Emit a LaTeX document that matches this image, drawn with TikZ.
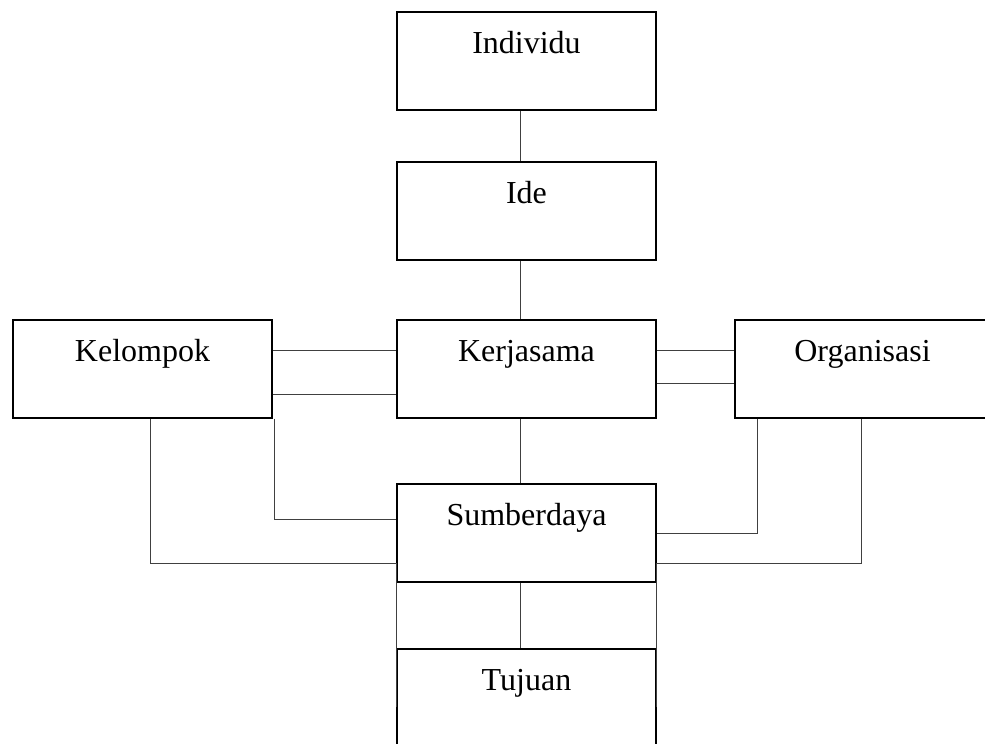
\documentclass[tikz,border=0pt]{standalone}
\usepackage{fontspec}
\setmainfont{Liberation Serif}
\usetikzlibrary{calc}
\tikzstyle{box} = [rectangle, draw=black, line width=0.7pt, inner sep=0pt, minimum width=129.5pt, text height=20.5pt, text depth=28.5pt, text centered, font=\fontsize{16}{19}\selectfont]
\tikzstyle{link} = [line width=0.4pt, color=black!75]
\begin{document}
\begin{tikzpicture}[x=0.5pt,y=-0.5pt]
\useasboundingbox (0,0) rectangle (985,744);
\begin{scope}
\clip (0,0) rectangle (985,744);
\coordinate (spine) at (520,0);
\node[box] (ind) at (526.5,61) {Individu};
\node[box] (ide) at (526.5,211) {Ide};
\node[box] (ker) at (526.5,369) {Kerjasama};
\node[box] (kel) at (142.5,369) {Kelompok};
\node[box, minimum width=148.5pt] (org) at (883.5,369) {Organisasi\kern21pt\null};
\node[box] (sum) at (526.5,533) {Sumberdaya};
\node[box, text depth=36pt] (tuj) at (526.5,705.5) {Tujuan};

% vertical spine
\draw[link] (ind.south -| spine) -- (ide.north -| spine);
\draw[link] (ide.south -| spine) -- (ker.north -| spine);
\draw[link] (ker.south -| spine) -- (sum.north -| spine);
\draw[link] (sum.south -| spine) -- (tuj.north -| spine);

% side links
\draw[link] ($(kel.east)+(0,-19)$) -- ($(ker.west)+(0,-19)$);
\draw[link] ($(kel.east)+(0,25)$) -- ($(ker.west)+(0,25)$);
\draw[link] ($(ker.east)+(0,-19)$) -- ($(org.west)+(0,-19)$);
\draw[link] ($(ker.east)+(0,14)$) -- ($(org.west)+(0,14)$);

% elbows
\draw[link] ($(kel.south east)+(2,0)$) |- ($(sum.west)+(0,-14)$);
\draw[link] ($(kel.south west)+(138,0)$) |- ($(sum.south west)+(0,-19)$) -- ($(tuj.north west)+(0,59)$);
\draw[link] ($(org.south west)+(23,0)$) |- (sum.east);
\draw[link] ($(org.south west)+(127,0)$) |- ($(sum.south east)+(0,-19)$) -- ($(tuj.north east)+(0,59)$);
\end{scope}
\end{tikzpicture}
\end{document}
